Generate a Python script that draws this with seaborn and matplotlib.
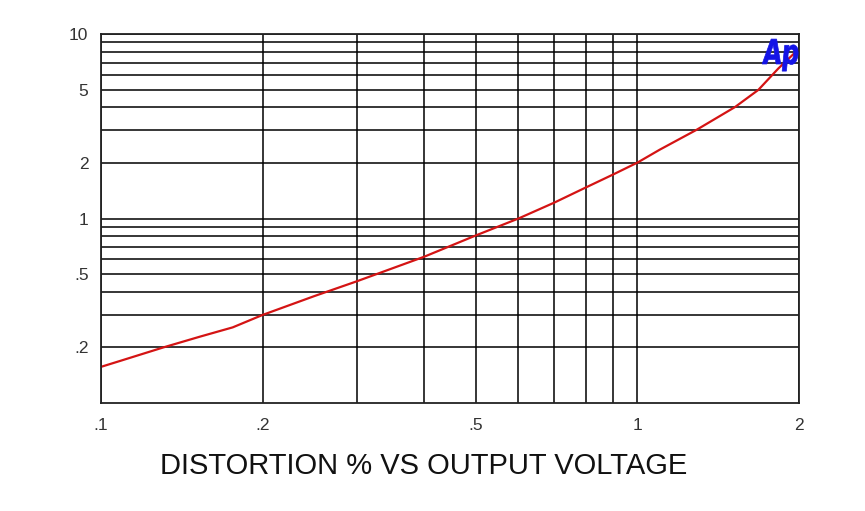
import numpy as np
import pandas as pd
import seaborn as sns
import matplotlib.pyplot as plt
import matplotlib.transforms as mtransforms
from matplotlib.ticker import FixedLocator, NullFormatter
from matplotlib.textpath import TextPath
from matplotlib.patches import PathPatch
from matplotlib.font_manager import FontProperties

# DATA
voltage = [0.1, 0.1085, 0.1306, 0.153, 0.176, 0.2, 0.25, 0.3, 0.4, 0.5, 0.6, 0.7,
           0.8, 0.9, 1.0, 1.1, 1.29, 1.52, 1.68, 1.83, 1.99]
distortion = [0.157, 0.169, 0.200, 0.229, 0.257, 0.300, 0.38, 0.457, 0.62, 0.81, 1.0,
              1.22, 1.47, 1.73, 2.01, 2.36, 3.03, 4.02, 4.98, 6.5, 8.2]

x_major = [0.1, 0.2, 0.5, 1, 2]
x_major_labels = [".1", ".2", ".5", "1", "2"]
x_minor = [0.3, 0.4, 0.6, 0.7, 0.8, 0.9]
y_major = [0.2, 0.5, 1, 2, 5, 10]
y_major_labels = [".2", ".5", "1", "2", "5", "10"]
y_minor = [0.3, 0.4, 0.6, 0.7, 0.8, 0.9, 3, 4, 6, 7, 8, 9]

title = "DISTORTION % VS OUTPUT VOLTAGE"

df = pd.DataFrame({"voltage": voltage, "distortion": distortion})

sns.set_style("white")
plt.rcParams["font.family"] = ["Liberation Sans", "DejaVu Sans"]

fig = plt.figure(figsize=(8.65, 5.11), dpi=100)
ax = fig.add_axes([101 / 865, 1 - 403 / 511, 698 / 865, 369 / 511])

sns.lineplot(data=df, x="voltage", y="distortion", ax=ax, color="#d41414", linewidth=1.6)

ax.set_xscale("log")
ax.set_yscale("log")
ax.set_xlim(0.1, 2)
ax.set_ylim(0.1, 10)

ax.xaxis.set_major_locator(FixedLocator(x_major))
ax.xaxis.set_minor_locator(FixedLocator(x_minor))
ax.set_xticklabels(x_major_labels)
ax.xaxis.set_minor_formatter(NullFormatter())
ax.yaxis.set_major_locator(FixedLocator(y_major))
ax.yaxis.set_minor_locator(FixedLocator(y_minor))
ax.set_yticklabels(y_major_labels)
ax.yaxis.set_minor_formatter(NullFormatter())

ax.grid(True, which="both", color="black", linewidth=1.1)
ax.tick_params(which="both", length=0, labelsize=12.5, labelcolor="#333333")
ax.tick_params(axis="x", pad=11)
ax.tick_params(axis="y", pad=9)
for s in ax.spines.values():
    s.set_color("#222222")
    s.set_linewidth(1.3)

ax.set_xlabel("")
ax.set_ylabel("")

# Ap logo - condensed bold glyphs, drawn as a path in pixel coords
logo = TextPath((0, 0), "Ap", size=38,
                prop=FontProperties(family="DejaVu Sans", weight="bold"))
logo_tf = mtransforms.Affine2D().skew_deg(8, 0).scale(0.64, 0.9).translate(762, 511 - 64)
fig.add_artist(PathPatch(logo, transform=logo_tf, facecolor="#1414e6",
                         edgecolor="#1414e6", linewidth=0.5, zorder=10))

fig.text(0.49, 1 - 466 / 511, title, ha="center", va="center", fontsize=21,
         color="#111111")

plt.savefig("out.png", dpi=100)
